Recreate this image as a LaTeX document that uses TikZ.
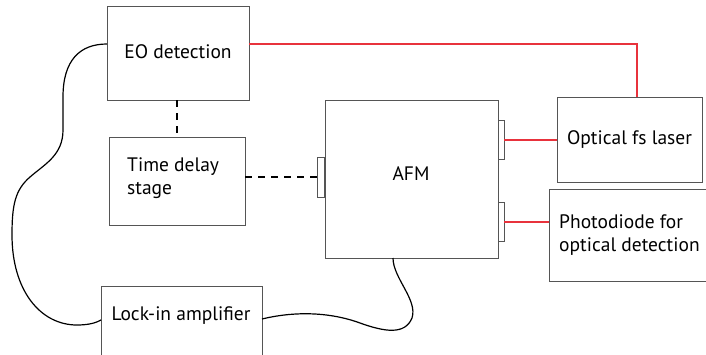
\documentclass[tikz,border=0pt]{standalone}
\usepackage{fontspec}
\setmainfont{PT Sans}
\definecolor{boxgray}{HTML}{555555}
\definecolor{laserred}{HTML}{E8323C}
\begin{document}
\begin{tikzpicture}[x=1pt,y=-1pt,
  blk/.style={draw=boxgray,line width=1pt,fill=white},
  port/.style={draw=boxgray,line width=0.9pt,fill=white},
  redline/.style={draw=laserred,line width=1.1pt},
  cable/.style={draw=black,line width=1.2pt},
  dashline/.style={draw=black,line width=1.6pt,dash pattern=on 7pt off 6pt},
  lbl/.style={font=\fontsize{19.5}{23}\selectfont,inner sep=0pt},
]
\useasboundingbox (0,0) rectangle (706,354);
% boxes
\draw[blk] (107,6) rectangle (249,100);
\node[lbl] (eo) at (178,52) {EO detection};
\coordinate (eoL) at (107,44);
\coordinate (eoR) at (249,44);
\coordinate (eoB) at (177,100);

\draw[blk] (109,137) rectangle (245,225);
\node[lbl,align=left,anchor=west] (td) at (127,178) {Time delay\\stage};
\coordinate (tdT) at (177,137);
\coordinate (tdR) at (245,177);

\draw[blk] (325,100) rectangle (498,258);
\node[lbl] (afm) at (411,174) {AFM};
\draw[port] (317,157) rectangle (324,197);
\coordinate (afmL) at (317,177);
\draw[port] (498,120) rectangle (504,159);
\coordinate (afmR1) at (504,140);
\draw[port] (498,202) rectangle (504,241);
\coordinate (afmR2) at (504,222);
\coordinate (afmB) at (393,258);

\draw[blk] (557,97) rectangle (702,182);
\node[lbl] (laser) at (629.5,140) {Optical fs laser};
\coordinate (laserL) at (557,140);
\coordinate (laserT) at (637,97);

\draw[blk] (720,189) -- (549,189) -- (549,281) -- (720,281);
\node[lbl,align=left,anchor=west] (pd) at (559,235) {Photodiode for\\optical detection};
\coordinate (pdL) at (549,222);

\draw[blk] (101,362) -- (101,286) -- (262,286) -- (262,362);
\node[lbl] (lock) at (181,316) {Lock-in amplifier};
\coordinate (lockL) at (101,320);
\coordinate (lockR) at (262,319);

% connectors
\draw[dashline] (eoB) -- (tdT);
\draw[dashline] (tdR) -- (afmL);
\draw[redline] (eoR) -- (laserT |- eoR) -- (laserT);
\draw[redline] (afmR1) -- (laserL);
\draw[redline] (afmR2) -- (pdL);
\draw[cable] (eoL) .. controls (80,44) and (63,60) .. (63,97)
  -- (63,130)
  .. controls (63,155) and (45,164) .. (30,177)
  .. controls (15,190) and (12,205) .. (12,235)
  .. controls (12,290) and (40,325) .. (77,325)
  .. controls (88,325) and (96,323) .. (lockL);
\draw[cable] (lockR) .. controls (295,311) and (330,312) .. (360,323)
  .. controls (385,332) and (405,335) .. (412,318)
  .. controls (418,300) and (393,278) .. (afmB);
\end{tikzpicture}
\end{document}
